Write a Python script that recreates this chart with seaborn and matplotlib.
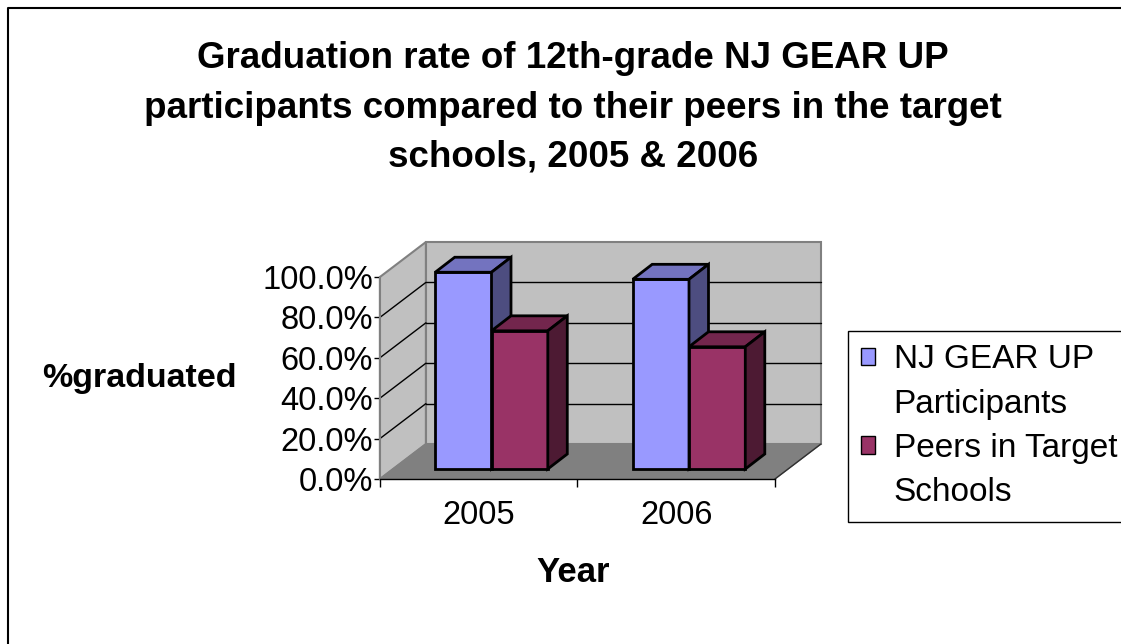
import pandas as pd
import seaborn as sns
import matplotlib.pyplot as plt
from matplotlib.patches import Polygon, Patch
from matplotlib.lines import Line2D
from matplotlib.colors import to_hex

# data
years = ['2005', '2006']
participants = [97.4, 93.9]
peers = [68.4, 60.5]
groups = ['NJ GEAR UP Participants', 'Peers in Target Schools']
legend_lines = ['NJ GEAR UP', 'Participants', 'Peers in Target', 'Schools']
y_ticks = [0, 20, 40, 60, 80, 100]

df = pd.DataFrame({
    'Year': years * 2,
    'Rate': participants + peers,
    'Group': [groups[0]] * 2 + [groups[1]] * 2,
})

front = ['#9999FF', '#993366']
top = ['#7373BF', '#73264D']
side = ['#4D4D80', '#4D1A33']

sns.set_style('white')
plt.rcParams['font.family'] = ['Liberation Sans', 'DejaVu Sans']
plt.rcParams['text.color'] = 'black'
plt.rcParams['axes.labelcolor'] = 'black'
plt.rcParams['xtick.color'] = 'black'
plt.rcParams['ytick.color'] = 'black'

W, H = 1121, 644
fig = plt.figure(figsize=(W / 100, H / 100), dpi=100)
ax = fig.add_axes([370 / W, 1 - 490 / H, 460 / W, 258 / H])

sns.barplot(data=df, x='Year', y='Rate', hue='Group', palette=front,
            width=0.57, edgecolor='black', linewidth=2, saturation=1,
            legend=False, ax=ax)
bars = sorted(ax.patches, key=lambda p: p.get_x())

ax.set_xlim(-0.6152, 1.7139)
ax.set_ylim(-10.4, 117.33)

# fake 3d box: front plane, back plane offsets
fx, fy = -0.065, -4.95
DX, DY = 0.233, 17.33
bx, by = fx + DX, fy + DY
x0, x1 = -0.5 + fx, 1.5 + fx

ax.add_patch(Polygon([(x0, fy), (x0, 100 + fy), (x0 + DX, 100 + by), (x0 + DX, by)],
                     fc='#C0C0C0', ec='#808080', lw=1.5, zorder=0.5))
ax.add_patch(Polygon([(x0 + DX, by), (x1 + DX, by), (x1 + DX, 100 + by), (x0 + DX, 100 + by)],
                     fc='#C0C0C0', ec='#808080', lw=1.5, zorder=0.5))
ax.add_patch(Polygon([(x0, fy), (x1, fy), (x1 + DX, by), (x0 + DX, by)],
                     fc='#808080', ec='#808080', lw=1, zorder=0.55))
ax.plot([x1, x1 + DX], [fy, by], color='#303030', lw=1, zorder=0.6)
for v in y_ticks[1:-1]:
    ax.plot([x0 + DX, x1 + DX], [v + by, v + by], color='black', lw=1, zorder=0.6)
    ax.plot([x0, x0 + DX], [v + fy, v + by], color='black', lw=1, zorder=0.6)

# bar depth
ddx, ddy = 0.0987, 7.43
for i, b in enumerate(bars):
    k = 0 if to_hex(b.get_facecolor()) == front[0].lower() else 1
    x, w, h = b.get_x(), b.get_width(), b.get_height()
    z = 3 + i * 0.1
    b.set_zorder(z)
    ax.add_patch(Polygon([(x, h), (x + w, h), (x + w + ddx, h + ddy), (x + ddx, h + ddy)],
                         fc=top[k], ec='black', lw=2, zorder=z + 0.01, joinstyle='miter'))
    ax.add_patch(Polygon([(x + w, 0), (x + w, h), (x + w + ddx, h + ddy), (x + w + ddx, ddy)],
                         fc=side[k], ec='black', lw=2, zorder=z + 0.01, joinstyle='miter'))

for s in ['top', 'right']:
    ax.spines[s].set_visible(False)
ax.spines['left'].set_position(('data', x0))
ax.spines['left'].set_bounds(fy, 100 + fy)
ax.spines['left'].set_color('#808080')
ax.spines['left'].set_linewidth(1.5)
ax.spines['bottom'].set_position(('data', fy))
ax.spines['bottom'].set_bounds(x0, x1)
ax.spines['bottom'].set_color('black')
ax.spines['bottom'].set_linewidth(1)

ax.set_yticks([v + fy for v in y_ticks])
ax.set_yticklabels([f'{v:.1f}%' for v in y_ticks])
ax.tick_params(axis='y', left=True, direction='out', length=4, width=1,
               color='black', pad=1, labelsize=23.5)
ax.set_xticks([x0, x0 + 1, x1])
ax.set_xticklabels([])
ax.set_xticks([fx, 1 + fx], minor=True)
ax.set_xticklabels(years, minor=True)
ax.tick_params(axis='x', which='major', bottom=True, direction='out', length=6,
               width=1, color='black')
ax.tick_params(axis='x', which='minor', bottom=True, length=0, pad=15, labelsize=23.5)

ax.set_ylabel('%graduated', rotation=0, fontsize=24.5, fontweight='bold',
              ha='center', va='center')
ax.yaxis.set_label_coords((139 - 370) / 460, (490 - 378) / 258)
ax.set_xlabel('Year', fontsize=25, fontweight='bold', ha='center', va='center')
ax.xaxis.set_label_coords((573 - 370) / 460, (490 - 572) / 258)

fig.text(573 / W, 1 - 108 / H,
         'Graduation rate of 12th-grade NJ GEAR UP\n'
         'participants compared to their peers in the target\n'
         'schools, 2005 & 2006',
         ha='center', va='center', fontsize=26.5, fontweight='bold', linespacing=1.53)

handles = [Patch(fc=front[0], ec='black', lw=1), Patch(fc='none', ec='none'),
           Patch(fc=front[1], ec='black', lw=1), Patch(fc='none', ec='none')]
leg = fig.legend(handles, legend_lines, loc='upper left',
                 bbox_to_anchor=(848 / W, 1 - 331 / H), fontsize=24,
                 frameon=True, fancybox=False, edgecolor='black', framealpha=1,
                 handlelength=0.42, handleheight=0.42, handletextpad=0.55,
                 borderpad=0.4, labelspacing=0.4, borderaxespad=0)
leg.get_frame().set_linewidth(1)

fig.add_artist(Line2D([8 / W, 8 / W, 1], [0, 1 - 8 / H, 1 - 8 / H],
                      color='black', lw=1.5))

fig.savefig('out.png', dpi=100)
